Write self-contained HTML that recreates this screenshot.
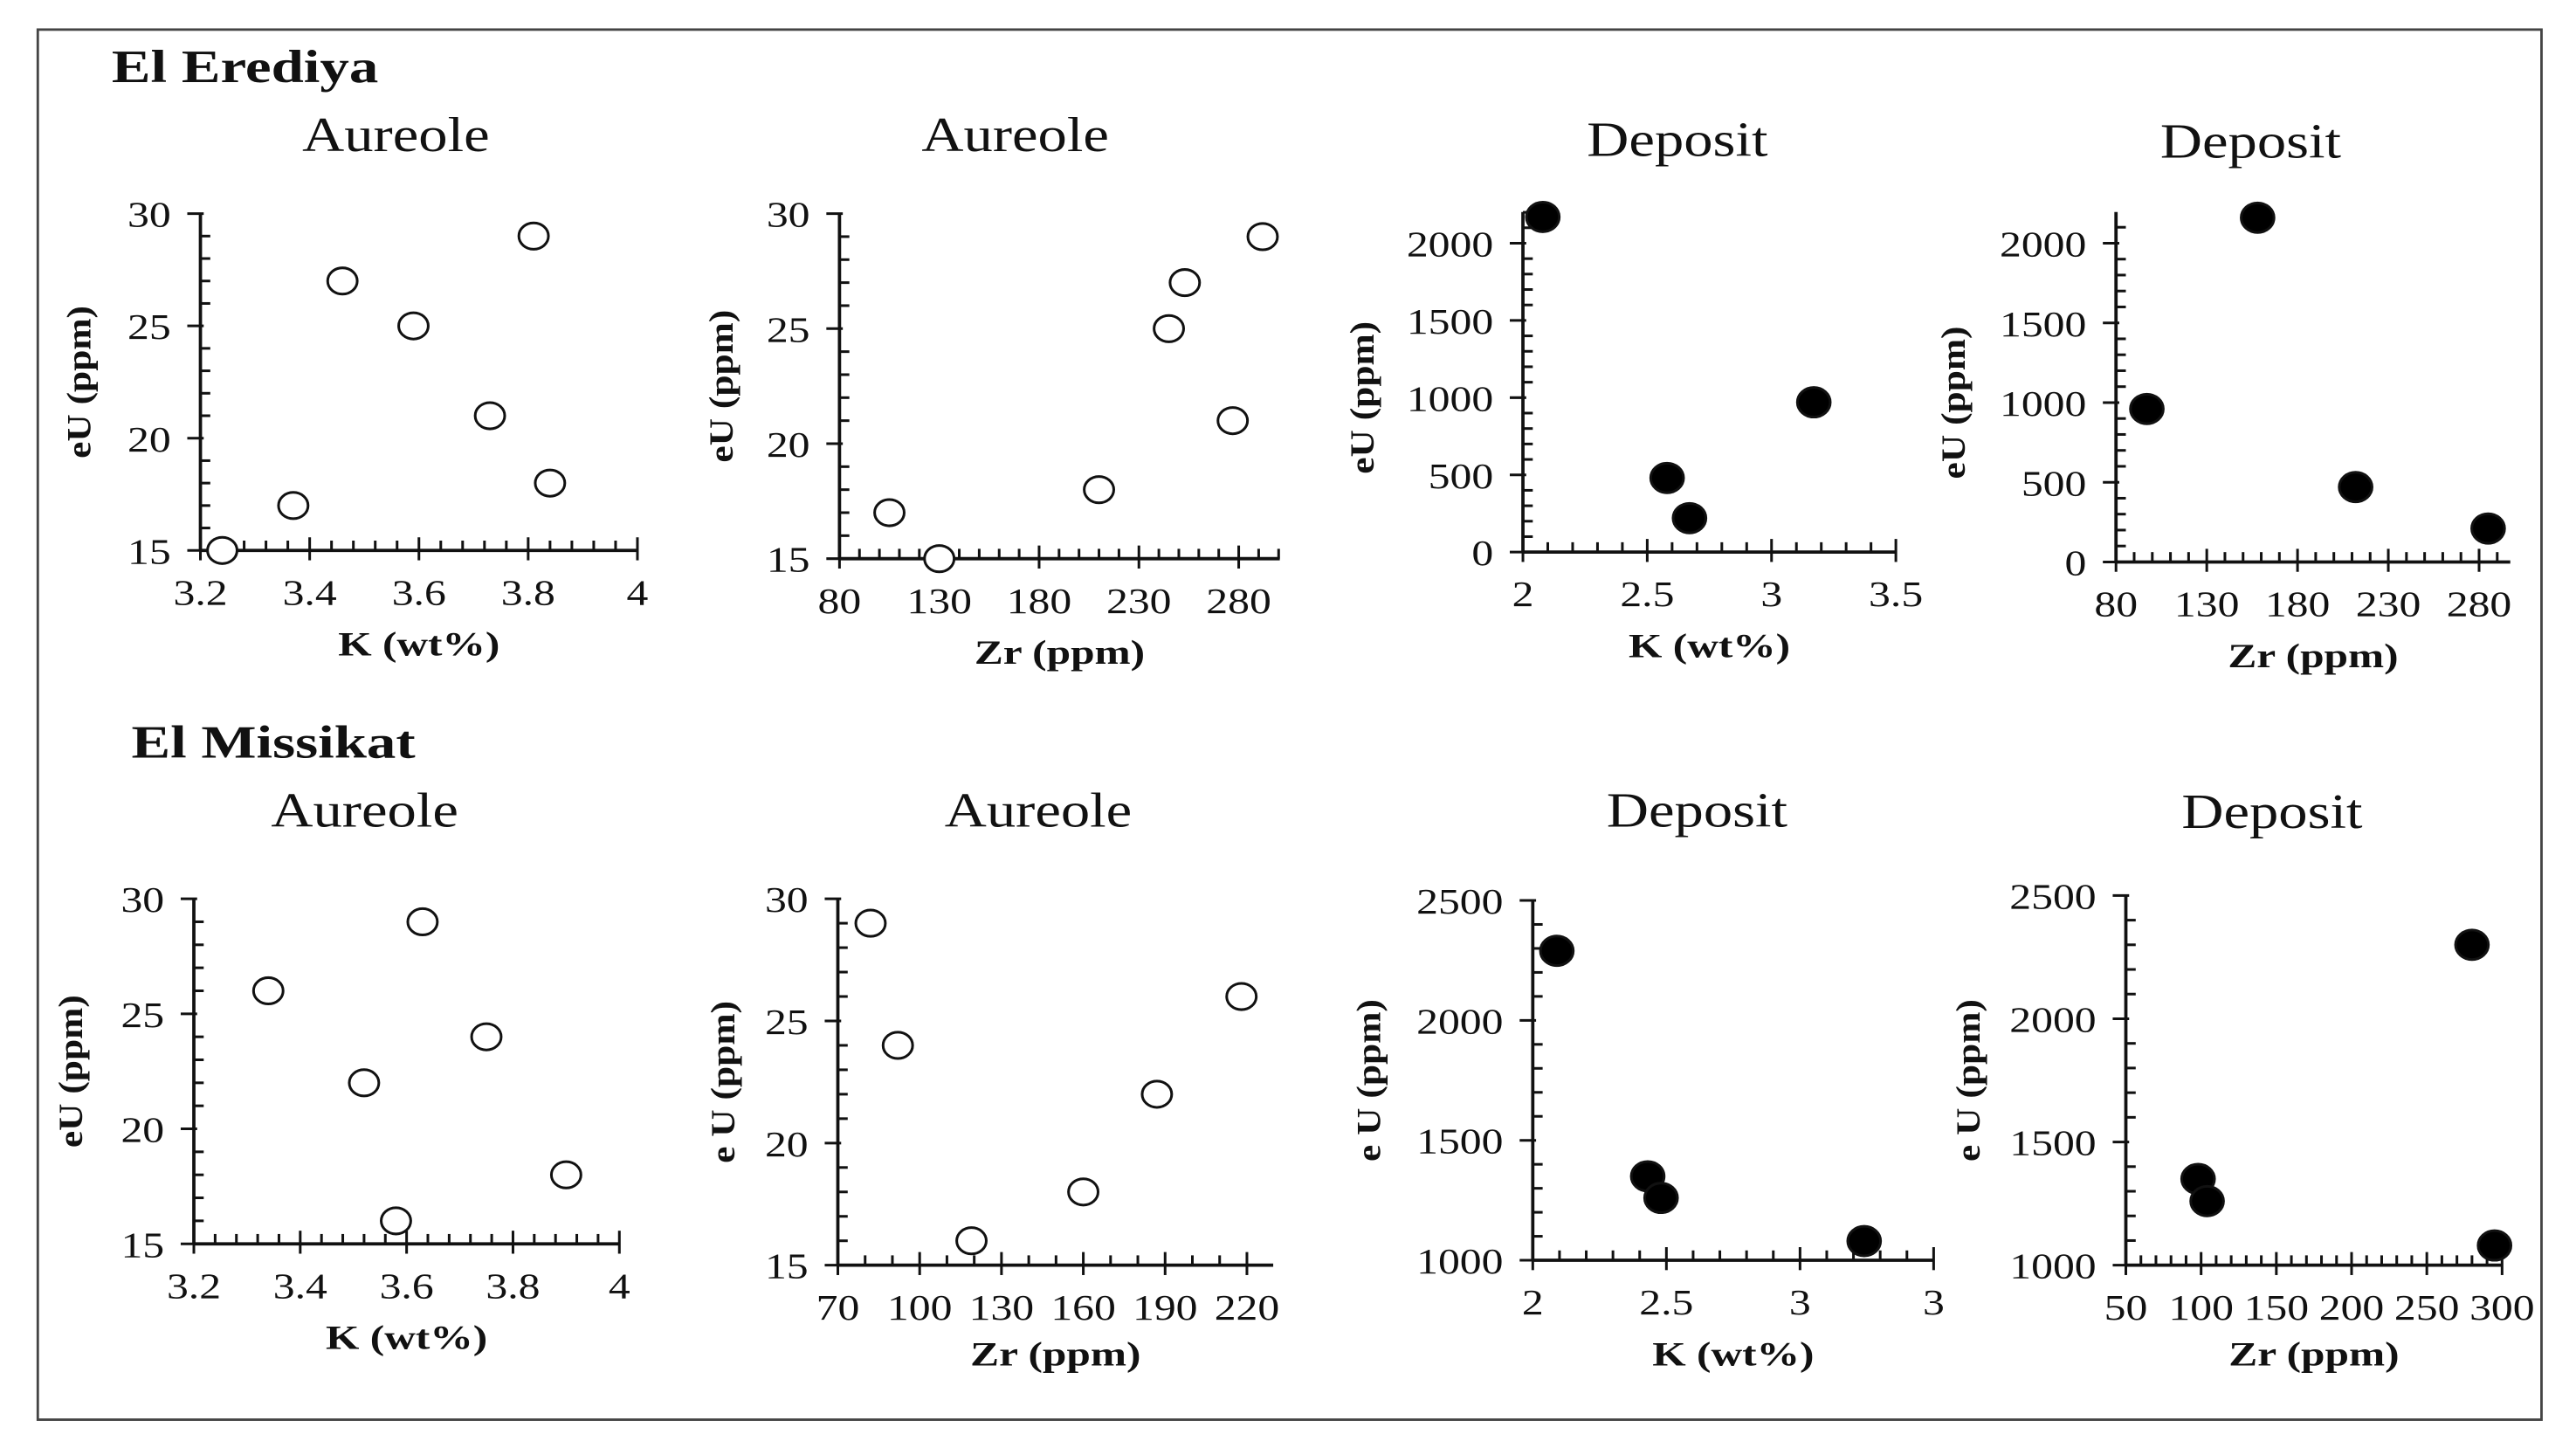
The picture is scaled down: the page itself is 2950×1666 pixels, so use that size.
<!DOCTYPE html>
<html><head><meta charset="utf-8"><style>
html,body{margin:0;padding:0;background:#fff;}
svg{display:block;}
text{font-family:"Liberation Serif",serif;fill:#111;}
</style></head><body>
<svg id="fig" width="2950" height="1666" viewBox="0 0 1568 885.5" xmlns="http://www.w3.org/2000/svg">
<rect x="23" y="18" width="1524" height="846" fill="none" stroke="#444" stroke-width="1.5"/>
<text id="s1" x="68" y="50" font-size="28" font-weight="bold">El Erediya</text>
<text id="s2" x="80" y="461" font-size="28" font-weight="bold">El Missikat</text>
<g id="panels"></g>
</svg>
<script>
// Data arrays (x, y) per panel
const p1x=[3.24,3.37,3.46,3.59,3.73,3.81,3.84];
const p1y=[15,17,27,25,21,29,18];
const p2x=[105,130,210,245,253,277,292];
const p2y=[17,15,18,25,27,21,29];
const p3x=[2.08,2.58,2.67,3.17];
const p3y=[2170,480,220,970];
const p4x=[97,158,212,285];
const p4y=[960,2160,470,210];
const p5x=[3.34,3.52,3.58,3.63,3.75,3.90];
const p5y=[26,22,16,29,24,18];
const p6x=[82,92,119,160,187,218];
const p6y=[29,24,16,18,22,26];
const p7x=[2.09,2.43,2.48,3.24];
const p7y=[2290,1350,1260,1080];
const p8x=[98,104,280,295];
const p8y=[1350,1260,2300,1080];
// Tick labels
const t1x=["3.2","3.4","3.6","3.8","4"], t1y=["15","20","25","30"];
const t2x=["80","130","180","230","280"], t2y=["15","20","25","30"];
const t3x=["2","2.5","3","3.5"], t3y=["0","500","1000","1500","2000"];
const t4x=["80","130","180","230","280"], t4y=["0","500","1000","1500","2000"];
const t5x=["3.2","3.4","3.6","3.8","4"], t5y=["15","20","25","30"];
const t6x=["70","100","130","160","190","220"], t6y=["15","20","25","30"];
const t7x=["2","2.5","3","3"], t7y=["1000","1500","2000","2500"];
const t8x=["50","100","150","200","250","300"], t8y=["1000","1500","2000","2500"];

const panels=[
 {id:1,title:"Aureole",tx:241,ty:92,ax:122,x0v:3.2,x1v:4,x1:388,xe:388,xmaj:0.2,xmin:0.04,xl:t1x,ay0:335,ay1:130,y0v:15,y1v:30,ye:130,ymaj:5,ymin:1,yl:t1y,xs:p1x,ys:p1y,fill:false,xt:"K (wt%)",yt:"eU (ppm)",ytx:55,xty:399},
 {id:2,title:"Aureole",tx:618,ty:92,ax:511,x0v:80,x1v:280,x1:754,xe:779,xmaj:50,xmin:10,xl:t2x,ay0:340,ay1:130,y0v:15,y1v:30,ye:130,ymaj:5,ymin:1,yl:t2y,xs:p2x,ys:p2y,fill:false,xt:"Zr (ppm)",yt:"eU (ppm)",ytx:446,xty:404},
 {id:3,title:"Deposit",tx:1021,ty:95,ax:927,x0v:2,x1v:3.5,x1:1154,xe:1154,xmaj:0.5,xmin:0.1,xl:t3x,ay0:336,ay1:148,y0v:0,y1v:2000,ye:129,ymaj:500,ymin:100,yl:t3y,xs:p3x,ys:p3y,fill:true,xt:"K (wt%)",yt:"eU (ppm)",ytx:836,xty:400},
 {id:4,title:"Deposit",tx:1370,ty:96,ax:1288,x0v:80,x1v:280,x1:1509,xe:1528,xmaj:50,xmin:10,xl:t4x,ay0:342,ay1:148,y0v:0,y1v:2000,ye:129,ymaj:500,ymin:100,yl:t4y,xs:p4x,ys:p4y,fill:true,xt:"Zr (ppm)",yt:"eU (ppm)",ytx:1196,xty:406},
 {id:5,title:"Aureole",tx:222,ty:503,ax:118,x0v:3.2,x1v:4,x1:377,xe:377,xmaj:0.2,xmin:0.04,xl:t5x,ay0:757,ay1:547,y0v:15,y1v:30,ye:547,ymaj:5,ymin:1,yl:t5y,xs:p5x,ys:p5y,fill:false,xt:"K (wt%)",yt:"eU (ppm)",ytx:50,xty:821},
 {id:6,title:"Aureole",tx:632,ty:503,ax:510,x0v:70,x1v:220,x1:759,xe:775,xmaj:30,xmin:10,xl:t6x,ay0:770,ay1:547,y0v:15,y1v:30,ye:547,ymaj:5,ymin:1,yl:t6y,xs:p6x,ys:p6y,fill:false,xt:"Zr (ppm)",yt:"e U (ppm)",ytx:447,xty:831},
 {id:7,title:"Deposit",tx:1033,ty:503,ax:933,x0v:2,x1v:3.5,x1:1177,xe:1177,xmaj:0.5,xmin:0.1,xl:t7x,ay0:767,ay1:548,y0v:1000,y1v:2500,ye:548,ymaj:500,ymin:100,yl:t7y,xs:p7x,ys:p7y,fill:true,xt:"K (wt%)",yt:"e U (ppm)",ytx:840,xty:831},
 {id:8,title:"Deposit",tx:1383,ty:504,ax:1294,x0v:50,x1v:300,x1:1523,xe:1523,xmaj:50,xmin:10,xl:t8x,ay0:770,ay1:545,y0v:1000,y1v:2500,ye:545,ymaj:500,ymin:100,yl:t8y,xs:p8x,ys:p8y,fill:true,xt:"Zr (ppm)",yt:"e U (ppm)",ytx:1205,xty:831}
];
const NS="http://www.w3.org/2000/svg";
const root=document.getElementById('panels');
function mk(tag,attrs,parent){const e=document.createElementNS(NS,tag);for(const k in attrs)e.setAttribute(k,attrs[k]);parent.appendChild(e);return e;}
function stretch(el,f){const L=el.getComputedTextLength();el.setAttribute('textLength',(L*f).toFixed(1));el.setAttribute('lengthAdjust','spacingAndGlyphs');}
stretch(document.getElementById('s1'),1.27);
stretch(document.getElementById('s2'),1.27);
panels.forEach(p=>{
 const g=mk('g',{},root);
 
 
 const sx=v=>p.ax+(v-p.x0v)/(p.x1v-p.x0v)*(p.x1-p.ax);
 const sy=v=>p.ay0-(v-p.y0v)/(p.y1v-p.y0v)*(p.ay0-p.ay1);
 const t=mk('text',{x:p.tx,y:p.ty,'font-size':30,'text-anchor':'middle'},g);t.textContent=p.title;
 
 
 stretch(t,1.18);
 const xa=mk('line',{x1:p.ax,y1:p.ay0,x2:p.xe,y2:p.ay0,stroke:'#111','stroke-width':2},g);
 
 
 const ya=mk('line',{x1:p.ax,y1:p.ay0,x2:p.ax,y2:p.ye,stroke:'#111','stroke-width':2},g);
 
 
 const xmax=p.x0v+(p.xe-p.ax)/(p.x1-p.ax)*(p.x1v-p.x0v);
 const nmin=Math.floor((xmax-p.x0v)/p.xmin+0.01);
 for(let i=0;i<=nmin;i++){const v=p.x0v+i*p.xmin;const X=sx(v);const maj=Math.abs(((v-p.x0v)/p.xmaj)-Math.round((v-p.x0v)/p.xmaj))<1e-6;
  mk('line',{x1:X,y1:p.ay0-(maj?8:6),x2:X,y2:p.ay0+(maj?6:0),stroke:'#111','stroke-width':1.6},g);}
 p.xl.forEach((l,i)=>{const lb=mk('text',{x:sx(p.x0v+i*p.xmaj),y:p.ay0+33,'font-size':22,'text-anchor':'middle'},g);lb.textContent=l;
  
  
  stretch(lb,1.2);});
 const ymax=p.y0v+(p.ay0-p.ye)/(p.ay0-p.ay1)*(p.y1v-p.y0v);
 const ny=Math.floor((ymax-p.y0v)/p.ymin+0.01);
 for(let i=0;i<=ny;i++){const v=p.y0v+i*p.ymin;const Y=sy(v);const maj=i%Math.round(p.ymaj/p.ymin)===0;
  mk('line',{x1:p.ax-(maj?8:0),y1:Y,x2:p.ax+(maj?2:6),y2:Y,stroke:'#111','stroke-width':1.6},g);}
 p.yl.forEach((l,i)=>{const lb=mk('text',{x:p.ax-18,y:sy(p.y0v+i*p.ymaj)+8,'font-size':22,'text-anchor':'end'},g);lb.textContent=l;
  
  
  stretch(lb,1.2);});
 const cy=(p.ay0+p.ay1)/2;
 const yt=mk('text',{x:p.ytx,y:cy,'font-size':21,'font-weight':'bold','text-anchor':'middle',transform:`rotate(-90 ${p.ytx} ${cy})`},g);yt.textContent=p.yt;
 
 
 stretch(yt,1.1);
 const xt=mk('text',{x:(p.ax+p.xe)/2,y:p.xty,'font-size':21,'font-weight':'bold','text-anchor':'middle'},g);xt.textContent=p.xt;
 
 
 stretch(xt,1.25);
 p.xs.forEach((v,i)=>{
  const c=mk('ellipse',{cx:sx(v),cy:sy(p.ys[i]),rx:p.fill?10:9,ry:p.fill?9:8,fill:p.fill?'#000':'#fff',stroke:'#111','stroke-width':1.6},g);
  
  
 });
});
</script>
</body></html>
